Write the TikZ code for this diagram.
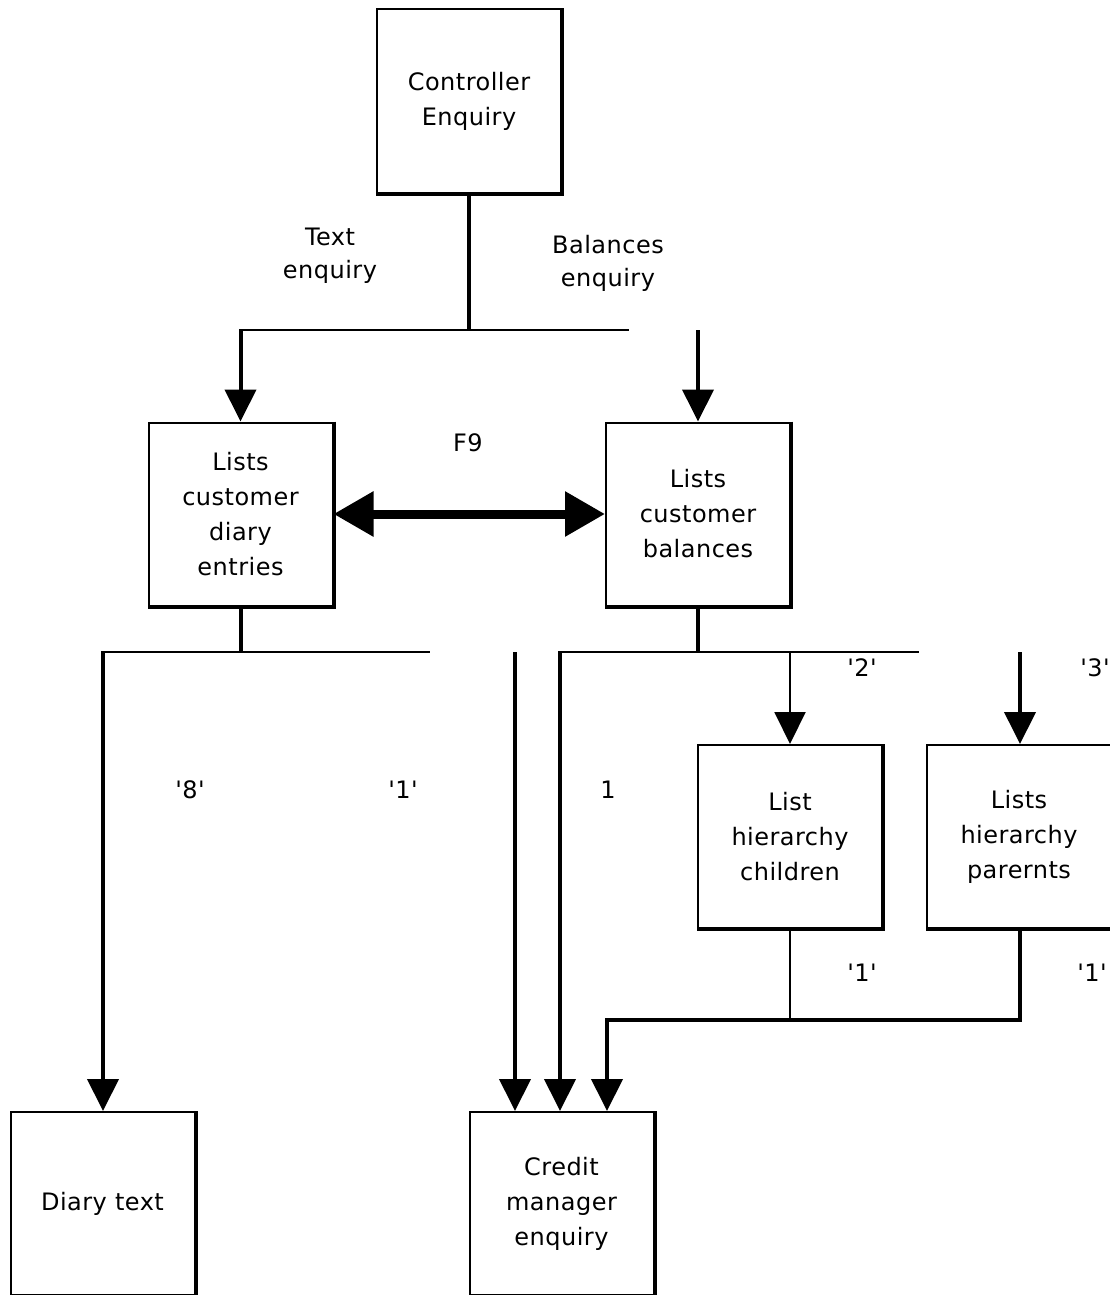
\documentclass[tikz,border=0pt]{standalone}
\usepackage{fontspec}
\setmainfont[LetterSpace=2,Ligatures=TeXOff]{DejaVu Sans}
\usetikzlibrary{arrows.meta}
\begin{document}
\begin{tikzpicture}[x=1pt,y=-1pt,
  box/.style={draw, line width=2pt, minimum width=184pt, minimum height=183pt, inner sep=0pt, align=center, font=\fontsize{24}{35}\selectfont},
  lbl/.style={align=center, font=\fontsize{24}{33}\selectfont, inner sep=0pt},
  conn/.style={line width=4pt},
  thinconn/.style={line width=2pt},
  tip/.style={-{Triangle[width=31pt,length=32pt]}},
  shadowedge/.style={line width=4pt},
]
\useasboundingbox (0,0) rectangle (1110,1295);
\fill[white] (0,0) rectangle (1110,1295);

% boxes
\node[box] (ctrl) at (469,101) {Controller\\Enquiry};
\node[box] (diary) at (240.5,514) {Lists\\customer\\diary\\entries};
\node[box] (bal) at (698,514) {Lists\\customer\\balances};
\node[box] (child) at (790,836.5) {List\\hierarchy\\children};
\node[box] (par) at (1019,836.5) {Lists\\hierarchy\\parernts};
\node[box] (dtext) at (102.5,1203.5) {Diary text};
\node[box] (credit) at (561.5,1203.5) {Credit\\manager\\enquiry};

\foreach \n in {ctrl,diary,bal,child,par,dtext,credit}{
  \draw[shadowedge] (\n.north east) -- (\n.south east) -- (\n.south west);
}

% labels
\node[lbl] (ltext) at (330,256) {Text\\enquiry};
\node[lbl] (lbalenq) at (608,263) {Balances\\enquiry};
\node[lbl] (lf9) at (468,443) {F9};
\node[lbl] (l8) at (190,790) {'8'};
\node[lbl] (l1a) at (403,790) {'1'};
\node[lbl] (l1b) at (608,790) {1};
\node[lbl] (l2) at (862,668) {'2'};
\node[lbl] (l3) at (1095,668) {'3'};
\node[lbl] (l1c) at (862,973) {'1'};
\node[lbl] (l1d) at (1092,973) {'1'};

% top distribution
\coordinate (j0) at (469,330);
\coordinate (h0l) at (240.5,330);
\coordinate (h0r) at (629,330);
\coordinate (b0) at (698,330);
\draw[conn] (ctrl.south) -- (j0);
\draw[thinconn] (h0l) -- (h0r);
\draw[conn,tip] ([yshift=1pt]h0l) -- (diary.north);
\draw[conn,tip] (b0) -- (bal.north);

% F9 double arrow
\draw[line width=9pt, {Triangle[width=43pt,length=40pt]}-{Triangle[width=43pt,length=40pt]}] (diary.east) -- (bal.west);

% diary branch
\coordinate (j1) at (240.5,652);
\coordinate (h1l) at (103,652);
\coordinate (h1r) at (430,652);
\coordinate (x1) at (515,652);
\draw[conn] (diary.south) -- (j1);
\draw[thinconn] (h1l) -- (h1r);
\draw[conn,tip] ([yshift=1pt]h1l) -- (h1l |- dtext.north);
\draw[conn,tip] (x1) -- (x1 |- credit.north);

% balances branch
\coordinate (j2) at (698,652);
\coordinate (h2l) at (560,652);
\coordinate (h2r) at (919,652);
\coordinate (c2) at (790,652);
\coordinate (p2) at (1020,652);
\draw[conn] (bal.south) -- (j2);
\draw[thinconn] (h2l) -- (h2r);
\draw[conn,tip] ([yshift=1pt]h2l) -- (h2l |- credit.north);
\draw[thinconn,tip] (c2) -- (child.north);
\draw[conn,tip] (p2) -- (p2 |- par.north);

% hierarchy returns
\coordinate (j3) at (790,1020);
\coordinate (k3) at (1020,1020);
\coordinate (m3) at (607,1020);
\draw[thinconn] (child.south) -- (j3);
\draw[conn,tip] (k3 |- par.south) -- (k3) -- (m3) -- (m3 |- credit.north);
\end{tikzpicture}
\end{document}
